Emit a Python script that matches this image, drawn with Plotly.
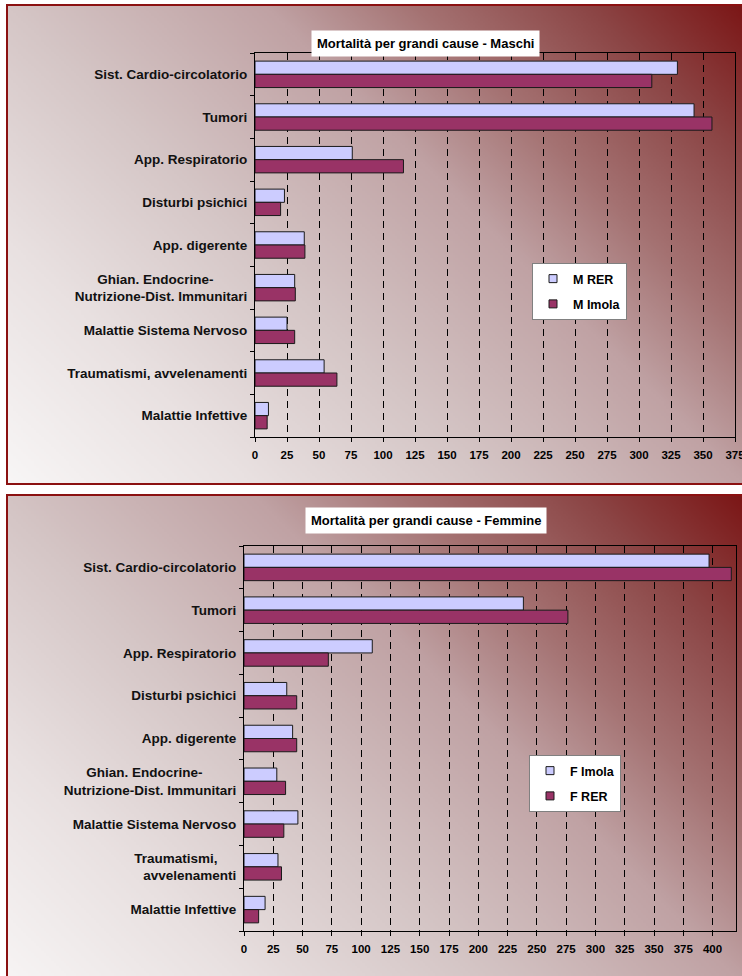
import base64
import struct
import zlib

import numpy as np
import plotly.graph_objects as go

# ---------------------------------------------------------------- data
categories_m = [
    "Sist. Cardio-circolatorio",
    "Tumori",
    "App. Respiratorio",
    "Disturbi psichici",
    "App. digerente",
    "Ghian. Endocrine-" + "\u00a0" * 9 + "<br>Nutrizione-Dist. Immunitari",
    "Malattie Sistema Nervoso",
    "Traumatismi, avvelenamenti",
    "Malattie Infettive",
]
categories_f = [
    "Sist. Cardio-circolatorio",
    "Tumori",
    "App. Respiratorio",
    "Disturbi psichici",
    "App. digerente",
    "Ghian. Endocrine-" + "\u00a0" * 9 + "<br>Nutrizione-Dist. Immunitari",
    "Malattie Sistema Nervoso",
    "Traumatismi," + "\u00a0" * 5 + "<br>avvelenamenti",
    "Malattie Infettive",
]
m_rer = [330, 343, 76, 23, 38.5, 31, 25, 54, 10.5]
m_imola = [310, 357, 116, 20, 39, 31.5, 31, 64, 9.5]
f_imola = [397, 238.5, 109.5, 36.5, 41.5, 28, 46, 29, 18]
f_rer = [416, 276.5, 72, 45, 45, 35.5, 34, 32, 12.5]

title_m = "Mortalità per grandi cause - Maschi"
title_f = "Mortalità per grandi cause - Femmine"
x_ticks_m = list(range(0, 376, 25))
x_ticks_f = list(range(0, 401, 25))

# ---------------------------------------------------------------- style
W, H = 742, 976
LAVENDER = "#CCCCFF"
PLUM = "#993366"
FONT = "Liberation Sans"


def px(x):
    return x / W


def py(y):
    return 1 - y / H


def gradient_png(w, h, pw, ph):
    """Diagonal gradient, light at bottom-left, dark red at top-right."""
    stops_t = [0.0, 0.2, 0.39, 0.6, 0.72, 0.86, 1.0]
    stops_c = np.array([
        (248, 246, 246), (233, 225, 225), (213, 198, 198), (192, 162, 164),
        (165, 115, 115), (140, 70, 70), (122, 18, 18)], dtype=float)
    xs = np.linspace(0, 1, w)[None, :] * pw
    ys = (1 - np.linspace(0, 1, h))[:, None] * ph
    t = (xs + ys) / (pw + ph)
    img = np.zeros((h, w, 3))
    for k in range(3):
        img[..., k] = np.interp(t, stops_t, stops_c[:, k])
    img = img.astype(np.uint8)
    raw = b"".join(b"\x00" + img[j].tobytes() for j in range(h))

    def chunk(tag, data):
        return (struct.pack(">I", len(data)) + tag + data
                + struct.pack(">I", zlib.crc32(tag + data) & 0xFFFFFFFF))

    png = (b"\x89PNG\r\n\x1a\n"
           + chunk(b"IHDR", struct.pack(">IIBBBBB", w, h, 8, 2, 0, 0, 0))
           + chunk(b"IDAT", zlib.compress(raw, 9))
           + chunk(b"IEND", b""))
    return "data:image/png;base64," + base64.b64encode(png).decode()


fig = go.Figure()

# ---------------------------------------------------------------- bars
bar_line = dict(color="#1a1a1a", width=1)
fig.add_trace(go.Bar(y=categories_m, x=m_rer, orientation="h", name="M RER",
                     marker=dict(color=LAVENDER, line=bar_line),
                     xaxis="x", yaxis="y", showlegend=False))
fig.add_trace(go.Bar(y=categories_m, x=m_imola, orientation="h", name="M Imola",
                     marker=dict(color=PLUM, line=bar_line),
                     xaxis="x", yaxis="y", showlegend=False))
fig.add_trace(go.Bar(y=categories_f, x=f_imola, orientation="h", name="F Imola",
                     marker=dict(color=LAVENDER, line=bar_line),
                     xaxis="x2", yaxis="y2", showlegend=False))
fig.add_trace(go.Bar(y=categories_f, x=f_rer, orientation="h", name="F RER",
                     marker=dict(color=PLUM, line=bar_line),
                     xaxis="x2", yaxis="y2", showlegend=False))

# legend entries with small square swatches
for name, col, leg, grp in [("M RER", LAVENDER, "legend", "a"),
                            ("M Imola", PLUM, "legend", "b"),
                            ("F Imola", LAVENDER, "legend2", "c"),
                            ("F RER", PLUM, "legend2", "d")]:
    fig.add_trace(go.Scatter(
        x=[None], y=[None], mode="markers", name="<b>%s</b>" % name,
        legend=leg, legendgroup=grp,
        marker=dict(symbol="square", size=8, color=col,
                    line=dict(color="#1a1a1a", width=1)),
        xaxis="x" if leg == "legend" else "x2",
        yaxis="y" if leg == "legend" else "y2"))

# ---------------------------------------------------------------- axes
def xaxis(dom, rng, ticks, anchor):
    return dict(domain=dom, range=rng, anchor=anchor, automargin=False,
                tickvals=ticks, ticktext=["<b>%d</b>" % t for t in ticks],
                showgrid=True, gridcolor="#000000", gridwidth=1,
                griddash="7px,5px",
                showline=True, linecolor="#000000", linewidth=1, mirror=True,
                ticks="outside", ticklen=4, tickcolor="#000000",
                tickfont=dict(family=FONT, size=11.5, color="#000000"),
                ticklabelstandoff=3, ticklabeloverflow="allow",
                zeroline=False, fixedrange=True)


def yaxis(dom, cats, anchor):
    return dict(domain=dom, anchor=anchor, type="category", automargin=False,
                categoryorder="array", categoryarray=cats,
                autorange="reversed",
                tickvals=cats, ticktext=["<b>%s</b>" % c for c in cats],
                showline=True, linecolor="#000000", linewidth=1, mirror=True,
                ticks="outside", ticklen=4, tickcolor="#000000",
                tickson="boundaries", showgrid=False,
                tickfont=dict(family=FONT, size=13.5, color="#111111"),
                ticklabelstandoff=4,
                fixedrange=True)


legend_style = dict(xanchor="left", yanchor="top",
                    bgcolor="#ffffff", bordercolor="#808080", borderwidth=1,
                    font=dict(family=FONT, size=12.5, color="#000000"),
                    tracegroupgap=6, itemwidth=30)

fig.update_layout(
    width=W, height=H,
    margin=dict(l=0, r=0, t=0, b=0, autoexpand=False),
    paper_bgcolor="#ffffff", plot_bgcolor="#ffffff",
    barmode="group", bargap=0.38, bargroupgap=0.0,
    font=dict(family=FONT, color="#000000"),
    xaxis=xaxis([px(255), px(735)], [0, 375], x_ticks_m, "y"),
    yaxis=yaxis([py(437), py(53)], categories_m, "x"),
    xaxis2=xaxis([px(244), px(736)], [0, 420], x_ticks_f, "y2"),
    yaxis2=yaxis([py(931), py(546)], categories_f, "x2"),
    legend=dict(x=px(532), y=py(263), **legend_style),
    legend2=dict(x=px(529), y=py(755), **legend_style),
)

# ---------------------------------------------------------------- panels
panels = [(7, 5, 760, 484), (7, 495, 760, 1000)]
images = []
shapes = []
for (x0, y0, x1, y1) in panels:
    pw, ph = x1 - x0, y1 - y0
    images.append(dict(source=gradient_png(300, 200, pw, ph),
                       xref="paper", yref="paper",
                       x=px(x0), y=py(y0), sizex=px(x1) - px(x0),
                       sizey=py(y0) - py(y1), sizing="stretch",
                       layer="below", xanchor="left", yanchor="top"))
    shapes.append(dict(type="rect", xref="paper", yref="paper",
                       x0=px(x0), x1=px(x1), y0=py(y0), y1=py(y1),
                       line=dict(color="#8b1111", width=2),
                       fillcolor="rgba(0,0,0,0)", layer="above"))
fig.update_layout(images=images, shapes=shapes)

# ---------------------------------------------------------------- titles
for text, cx, cy in [(title_m, 425, 30), (title_f, 426, 520)]:
    fig.add_annotation(text="<b>%s</b>" % text, xref="paper", yref="paper",
                       x=px(cx), y=py(cy), showarrow=False,
                       font=dict(family=FONT, size=13, color="#000000"),
                       bgcolor="#ffffff", borderpad=5)

fig.write_html("out.html")
